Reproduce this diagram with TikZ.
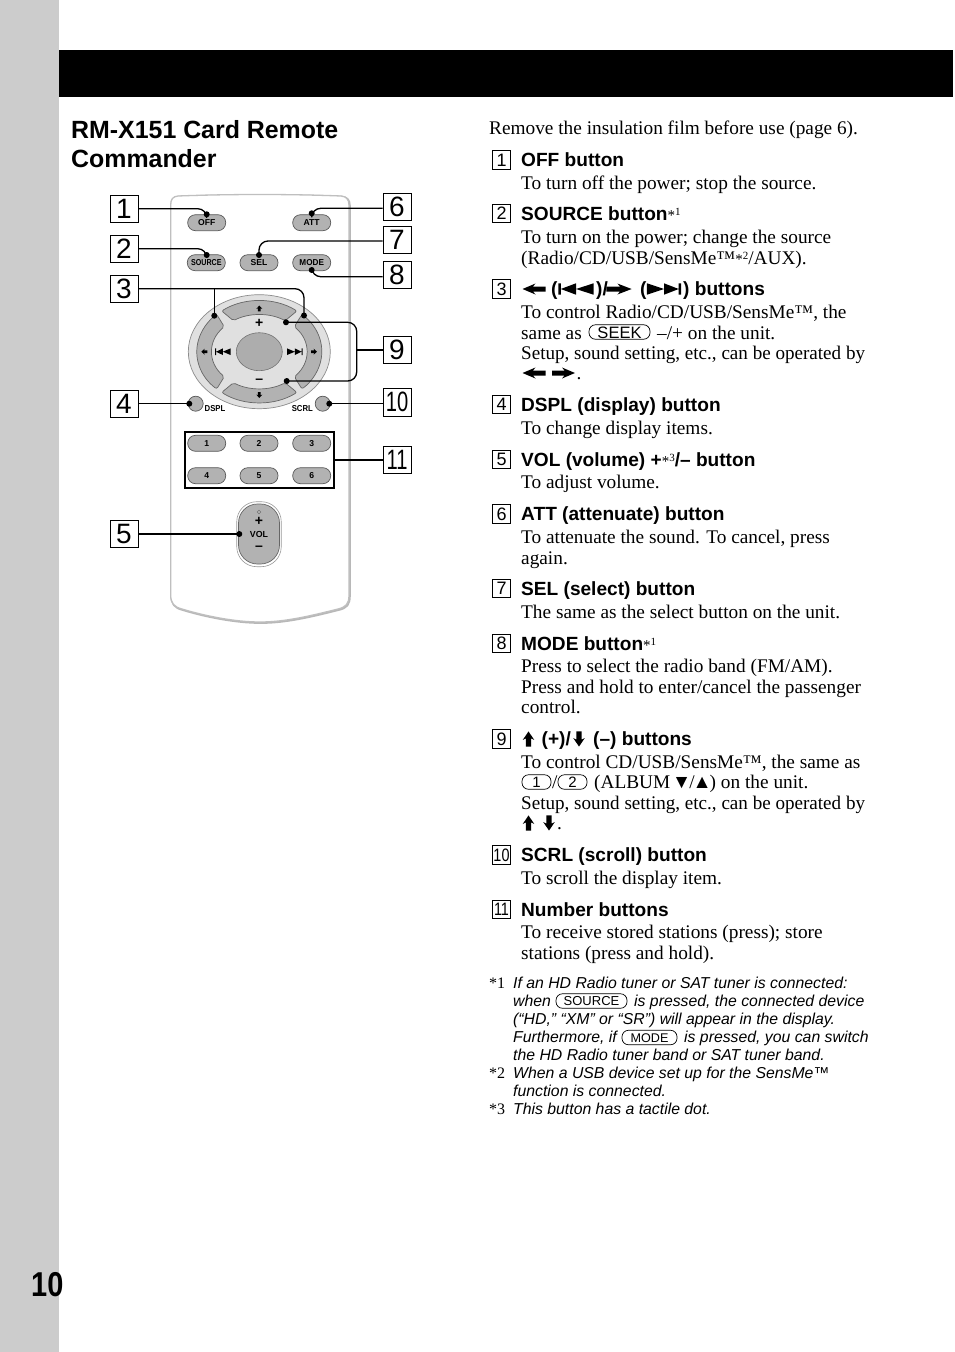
\documentclass[tikz,border=0pt]{standalone}
\usetikzlibrary{shapes.geometric}
\usepackage{fontspec}
\usepackage{graphicx}
\setmainfont{Liberation Serif}
\newfontfamily\asans{Liberation Sans}
\newcounter{tn}
\newcommand\mk[1]{{\rmfamily\mdseries\upshape\fontsize{15}{15}\selectfont *\raisebox{4.5pt}{\fontsize{11}{11}\selectfont #1}}}
\newcommand\bodyl[3]{\stepcounter{tn}\node[bodytx] (t\thetn) at (#1,#2) {#3};}
\newcommand\headl[3]{\stepcounter{tn}\node[headtx] (t\thetn) at (#1,#2+.6) {#3};}
\newcommand\notel[3]{\stepcounter{tn}\node[notetx] (t\thetn) at (#1,#2) {#3};}
\newcommand\markl[2]{\stepcounter{tn}\node[bodytx,font=\fontsize{16}{18}\selectfont] (t\thetn) at (489,#1) {#2};}
\newcommand\nbx[2]{\stepcounter{tn}\node[numbox] (t\thetn) at (501.5,#1) {#2};}
\newcommand\pill[5]{\stepcounter{tn}\node[keycap,minimum width=#3,font=\asans\fontsize{#5}{#5}\selectfont] (t\thetn) at (#1,#2) {\raisebox{-.6pt}{#4}};}
\newcommand\btn[4][1]{\stepcounter{tn}\node[rbutton] (t\thetn) at (#2,#3) {\scalebox{#1}[1]{#4}};}
\newcommand\rlab[4][1]{\stepcounter{tn}\node[rlabel] (t\thetn) at (#2,#3) {\scalebox{#1}[1]{#4}};}
% block arrow: x,y,rotation,xscale,yscale
\newcommand\blk[5]{\fill[black,shift={(#1,#2)},rotate=#3,xscale=#4,yscale=#5]
  (-11.5,-2.5)--(1,-2.5)--(-1.5,-5.5)--(11.5,0)--(-1.5,5.5)--(1,2.5)--(-11.5,2.5)--cycle;}
% skip icon: x,y,xscale,yscale (negative xscale = next)
\newcommand\skipic[4]{\fill[black,shift={(#1,#2)},xscale=#3,yscale=#4]
  (-18.5,-6)--(-16,-6)--(-16,6)--(-18.5,6)--cycle
  (-16,0)--(0,-6)--(0,6)--cycle (0,0)--(18.5,-6)--(18.5,6)--cycle;}
\newcommand\segm[4]{\draw[segm] ({62.5*cos(#1)},{-51*sin(#1)})
  arc[start angle=#1,end angle=#2,x radius=62.5pt,y radius=51pt]
  -- ({47.5*cos(#3)},{-37*sin(#3)})
  arc[start angle=#3,end angle=#4,x radius=47.5pt,y radius=37pt] -- cycle;}
\tikzset{
  bodytx/.style={anchor=base west,inner sep=0pt,font=\fontsize{19.3}{22}\selectfont,text=black},
  headtx/.style={anchor=base west,inner sep=0pt,font=\asans\bfseries\fontsize{19.1}{22}\selectfont,text=black},
  notetx/.style={anchor=base west,inner sep=0pt,font=\asans\itshape\fontsize{15.8}{18}\selectfont,text=black},
  titletx/.style={anchor=base west,inner sep=0pt,font=\asans\bfseries\fontsize{24.9}{28}\selectfont,text=black},
  numbox/.style={draw=black,line width=.7pt,minimum size=18.5pt,inner sep=0pt,font=\asans\fontsize{18}{18}\selectfont},
  keycap/.style={draw=black,line width=.7pt,rounded corners=6.5pt,minimum height=14.5pt,inner sep=0pt,text depth=0pt},
  callout/.style={draw=black,fill=white,line width=.9pt,minimum width=28pt,minimum height=27.5pt,inner sep=0pt,font=\asans\fontsize{28}{28}\selectfont},
  rbutton/.style={draw=black!65,fill=black!30,line width=.7pt,rounded corners=7.8pt,minimum width=38pt,minimum height=16pt,inner sep=0pt,font=\asans\bfseries\fontsize{8.6}{9}\selectfont},
  rlabel/.style={inner sep=0pt,font=\asans\bfseries\fontsize{8.6}{9}\selectfont},
  dot/.style={circle,fill=black,minimum size=6pt,inner sep=0pt},
  lead/.style={draw=black,line width=1.3pt,rounded corners=9pt},
  segm/.style={draw=black!60,fill=black!30,line width=.7pt,rounded corners=2pt},
}
\begin{document}
\begin{tikzpicture}[x=1pt,y=-1pt]
\useasboundingbox (0,0) rectangle (954,1352);
\fill[black!20] (0,0) rectangle (59,1352);
\fill[black] (59,50) rectangle (953,97);
\node[anchor=base west,inner sep=0pt,font=\asans\bfseries\fontsize{34.5}{36}\selectfont] (pagenum) at (31,1296.5) {\scalebox{.84}[1]{10}};
\node[titletx] (title1) at (71,138.5) {RM-X151 Card Remote};
\node[titletx] (title2) at (71,167.5) {Commander};

%% ---------- remote body ----------
\path[draw=black!28,line width=2.2pt,fill=black!28,shift={(.7,.8)}]
  (170.7,205) .. controls (170.7,199) and (173,196.5) .. (178,196)
  .. controls (230,194) and (290,194) .. (341,196)
  .. controls (346,196.5) and (349,199) .. (349,205)
  -- (349,595) .. controls (349,604) and (346,607) .. (338,609)
  .. controls (310,616) and (285,622) .. (260,622)
  .. controls (235,622) and (205,616) .. (182,609)
  .. controls (174,607) and (170.7,603) .. (170.7,595) -- cycle;
\path[draw=black!25,line width=1.3pt,fill=white]
  (170.7,205) .. controls (170.7,199) and (173,196.5) .. (178,196)
  .. controls (230,194) and (290,194) .. (341,196)
  .. controls (346,196.5) and (349,199) .. (349,205)
  -- (349,595) .. controls (349,604) and (346,607) .. (338,609)
  .. controls (310,616) and (285,622) .. (260,622)
  .. controls (235,622) and (205,616) .. (182,609)
  .. controls (174,607) and (170.7,603) .. (170.7,595) -- cycle;

%% ---------- top buttons ----------
\btn{206.7}{222.7}{OFF}
\btn{311.7}{222.7}{ATT}
\btn[.83]{206.3}{262.7}{SOURCE}
\btn{259}{262.7}{SEL}
\btn[.95]{311.7}{262.7}{MODE}

%% ---------- direction pad ----------
\node[ellipse,draw=black!45,fill=black!12,line width=.7pt,minimum width=142pt,minimum height=114pt,inner sep=0pt] (pad) at (259.3,351.7) {};
\begin{scope}[shift={(259.3,351.7)}]
\segm{127}{53}{57}{123}
\segm{47}{-47}{-42.5}{42.5}
\segm{-53}{-127}{-123}{-57}
\segm{-133}{-227}{-222.5}{-137.5}
\end{scope}
\node[ellipse,draw=black!55,fill=black!32,line width=.6pt,minimum width=46pt,minimum height=38pt,inner sep=0pt] (padc) at (259.3,351.7) {};
\blk{259.3}{308.5}{90}{.26}{.55}
\blk{259.3}{395}{-90}{.26}{.55}
\blk{204.3}{351.7}{180}{.26}{.55}
\blk{314}{351.7}{0}{.26}{.55}
\skipic{222.8}{351.7}{.42}{.55}
\skipic{294.8}{351.7}{-.42}{.55}
\rlab[1]{259.3}{323.8}{\fontsize{14}{14}\selectfont +}
\rlab[1]{259.3}{381.5}{\fontsize{14}{14}\selectfont –}

%% ---------- DSPL / SCRL ----------
\node[circle,draw=black!65,fill=black!30,line width=.7pt,minimum size=15pt,inner sep=0pt] (dspl) at (195.7,403.7) {};
\node[circle,draw=black!65,fill=black!30,line width=.7pt,minimum size=15pt,inner sep=0pt] (scrl) at (322.7,403.7) {};
\rlab[.9]{215}{408.7}{DSPL}
\rlab[.9]{302.3}{408.7}{SCRL}

%% ---------- number buttons ----------
\node[draw=black,line width=1.3pt,minimum width=149pt,minimum height=56pt,inner sep=0pt] (numgrp) at (259.5,460) {};
\btn{206.7}{443.3}{1}
\btn{259}{443.3}{2}
\btn{311.7}{443.3}{3}
\btn{206.7}{475.7}{4}
\btn{259}{475.7}{5}
\btn{311.7}{475.7}{6}

%% ---------- volume ----------
\node[draw=black!40,fill=white,line width=.6pt,rounded corners=20pt,minimum width=44.5pt,minimum height=65pt,inner sep=0pt] (volo) at (259,534.2) {};
\node[draw=black!60,fill=black!30,line width=.7pt,rounded corners=19pt,minimum width=41pt,minimum height=60pt,inner sep=0pt] (vol) at (259,534) {};
\node[circle,draw=black!60,line width=.3pt,minimum size=3.6pt,inner sep=0pt] (tactile) at (259,512) {};
\rlab[1]{259}{521.5}{\fontsize{14}{14}\selectfont +}
\rlab[1]{259}{534.5}{\fontsize{8.8}{9}\selectfont VOL}
\rlab[1]{259}{548}{\fontsize{14}{14}\selectfont –}

%% ---------- callouts ----------
\node[callout] (c1) at (124,208.7) {1};
\node[callout] (c2) at (124,248.7) {2};
\node[callout] (c3) at (124,288.7) {3};
\node[callout] (c4) at (124,403.7) {4};
\node[callout] (c5) at (124,534) {5};
\node[callout] (c6) at (397,206.7) {6};
\node[callout] (c7) at (397,239.7) {7};
\node[callout] (c8) at (397,274.7) {8};
\node[callout] (c9) at (397,350) {9};
\node[callout] (c10) at (397,402.3) {\scalebox{.72}[1]{10}};
\node[callout] (c11) at (397,460) {\scalebox{.72}[1]{11}};

%% ---------- leader dots ----------
\node[dot] (d1) at (206.7,214.3) {};
\node[dot] (d2) at (206.7,255) {};
\node[dot] (d3a) at (214.3,315.7) {};
\node[dot] (d3b) at (304,315.5) {};
\node[dot] (d4) at (189.3,403.7) {};
\node[dot] (d5) at (239.3,534) {};
\node[dot] (d6) at (311.7,213.3) {};
\node[dot] (d7) at (259,255) {};
\node[dot] (d8) at (311.7,270) {};
\node[dot] (d9a) at (286,322.3) {};
\node[dot] (d9b) at (286.7,381) {};
\node[dot] (d10) at (329.3,403.7) {};
\coordinate (j9) at (356.7,350);
\draw[lead] (c1.east) -| (d1.center);
\draw[lead] (c2.east) -| (d2.center);
\draw[lead] (c3.east) -| (d3b.center);
\draw[lead] (d3a.center |- c3.east) -- (d3a.center);
\draw[lead] (c4.east) -- (d4.center);
\draw[lead] (c5.east) -- (d5.center);
\draw[lead] ([yshift=-1.6pt]c6.west) -| (d6.center);
\draw[lead] ([yshift=-1.3pt]c7.west) -| (d7.center);
\draw[lead] ([yshift=-2pt]c8.west) -| (d8.center);
\draw[lead] (c9.west) -- (j9);
\draw[lead] (d9a.center) -| (j9) |- (d9b.center);
\draw[lead] ([yshift=-1.4pt]c10.west) -- (d10.center);
\draw[lead] (c11.west) -- (numgrp.east);

%% ---------- right column ----------
\bodyl{489}{134}{Remove the insulation film before use (page 6).}

\nbx{160}{1}
\headl{521}{166}{OFF button}
\bodyl{521}{189}{To turn off the power; stop the source.}

\nbx{213.5}{2}
\headl{521}{219.5}{SOURCE button\mk{1}}
\bodyl{521}{243}{To turn on the power; change the source}
\bodyl{521}{264}{(Radio/CD/USB/SensMe™\mk{2}/AUX).}

\nbx{289}{3}
\blk{534}{289}{180}{1}{1}
\headl{551}{295}{(}
\skipic{576}{289}{.95}{.95}
\headl{596}{295}{)/}
\blk{619}{289}{0}{1.1}{1}
\headl{640}{295}{(}
\skipic{664}{289}{-.92}{.95}
\headl{683}{295}{) buttons}
\bodyl{521}{318}{To control Radio/CD/USB/SensMe™, the}
\bodyl{521}{339}{same as}
\pill{619.5}{332}{61pt}{SEEK}{16.5}
\bodyl{657}{339}{–/+ on the unit.}
\bodyl{521}{359}{\scalebox{.9885}[1]{Setup, sound setting, etc., can be operated by}}
\blk{534}{373}{180}{1}{1}
\blk{563.5}{373}{0}{1}{1}
\bodyl{576.5}{379}{.}

\nbx{404.5}{4}
\headl{521}{410.5}{DSPL (display) button}
\bodyl{521}{434}{To change display items.}

\nbx{459.5}{5}
\headl{521}{465.5}{VOL (volume) +\mk{3}/– button}
\bodyl{521}{488}{To adjust volume.}

\nbx{514}{6}
\headl{521}{520}{ATT (attenuate) button}
\bodyl{521}{543}{To attenuate the sound. To cancel, press}
\bodyl{521}{564}{again.}

\nbx{588.5}{7}
\headl{521}{594.5}{SEL (select) button}
\bodyl{521}{618}{The same as the select button on the unit.}

\nbx{643.5}{8}
\headl{521}{649.5}{MODE button\mk{1}}
\bodyl{521}{672}{Press to select the radio band (FM/AM).}
\bodyl{521}{693}{Press and hold to enter/cancel the passenger}
\bodyl{521}{713}{control.}

\nbx{739}{9}
\blk{528.5}{739}{90}{.66}{1.05}
\headl{541.5}{745}{(+)/}
\blk{579}{739}{-90}{.66}{1.05}
\headl{593}{745}{(–) buttons}
\bodyl{521}{768}{To control CD/USB/SensMe™, the same as}
\pill{536.5}{782}{29pt}{1}{15}
\bodyl{552}{788}{/}
\pill{572.5}{782}{29pt}{2}{15}
\bodyl{594}{788}{(ALBUM \kern-3pt▼\kern-2pt/\kern-2pt▲\kern-2pt) on the unit.}
\bodyl{521}{809}{\scalebox{.9885}[1]{Setup, sound setting, etc., can be operated by}}
\blk{528.5}{823}{90}{.66}{1.05}
\blk{549}{823}{-90}{.66}{1.05}
\bodyl{557}{829}{.}

\nbx{855}{\scalebox{.8}[1]{10}}
\headl{521}{861}{SCRL (scroll) button}
\bodyl{521}{884}{To scroll the display item.}

\nbx{909.5}{\scalebox{.8}[1]{11}}
\headl{521}{915.5}{Number buttons}
\bodyl{521}{938}{To receive stored stations (press); store}
\bodyl{521}{959}{stations (press and hold).}

\markl{988}{*1}
\notel{513}{988.5}{If an HD Radio tuner or SAT tuner is connected:}
\notel{513}{1006.5}{when}
\pill{591.5}{1001}{71pt}{SOURCE}{13}
\notel{634}{1006.5}{is pressed, the connected device}
\notel{513}{1024.5}{(“HD,” “XM” or “SR”) will appear in the display.}
\notel{513}{1042.5}{Furthermore, if}
\pill{649.5}{1037.5}{55pt}{MODE}{12.6}
\notel{684}{1042.5}{is pressed, you can switch}
\notel{513}{1060.5}{the HD Radio tuner band or SAT tuner band.}
\markl{1078}{*2}
\notel{513}{1078.5}{When a USB device set up for the SensMe™}
\notel{513}{1096.5}{function is connected.}
\markl{1114}{*3}
\notel{513}{1114.5}{This button has a tactile dot.}
\end{tikzpicture}
\end{document}
